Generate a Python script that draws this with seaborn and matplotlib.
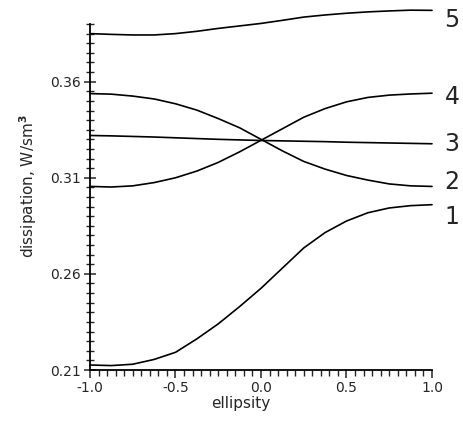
import numpy as np
import pandas as pd
import matplotlib
matplotlib.use("Agg")
import matplotlib.pyplot as plt
import seaborn as sns
from matplotlib.ticker import MultipleLocator, FixedLocator

ellipsity = [-1.0, -0.875, -0.75, -0.625, -0.5, -0.375, -0.25, -0.125, 0.0,
             0.125, 0.25, 0.375, 0.5, 0.625, 0.75, 0.875, 1.0]
curve1 = [0.2126, 0.2123, 0.2130, 0.2155, 0.2192, 0.2262, 0.2340, 0.2430, 0.2525,
          0.2630, 0.2735, 0.2815, 0.2875, 0.2918, 0.2943, 0.2955, 0.2960]
curve2 = [0.3538, 0.3535, 0.3525, 0.3510, 0.3485, 0.3452, 0.3408, 0.3360, 0.3300,
          0.3240, 0.3185, 0.3145, 0.3112, 0.3088, 0.3068, 0.3058, 0.3055]
curve3 = [0.3320, 0.3318, 0.3315, 0.3312, 0.3308, 0.3304, 0.3300, 0.3297, 0.3294,
          0.3292, 0.3290, 0.3288, 0.3285, 0.3283, 0.3281, 0.3279, 0.3277]
curve4 = [0.3055, 0.3052, 0.3058, 0.3075, 0.3100, 0.3135, 0.3180, 0.3235, 0.3295,
          0.3355, 0.3415, 0.3460, 0.3495, 0.3518, 0.3530, 0.3536, 0.3540]
curve5 = [0.3850, 0.3846, 0.3843, 0.3843, 0.3850, 0.3862, 0.3877, 0.3890, 0.3903,
          0.3919, 0.3936, 0.3947, 0.3956, 0.3963, 0.3968, 0.3972, 0.3971]
curve_names = ["1", "2", "3", "4", "5"]
y_ticks = [0.21, 0.26, 0.31, 0.36]
x_ticks = [-1.0, -0.5, 0.0, 0.5, 1.0]

series = [curve1, curve2, curve3, curve4, curve5]
df = pd.concat([pd.DataFrame({"ellipsity": ellipsity, "dissipation": s, "curve": n})
                for s, n in zip(series, curve_names)], ignore_index=True)

sns.set_style("white")
plt.rcParams["font.family"] = ["DejaVu Sans"]

fig = plt.figure(figsize=(4.64, 4.23), dpi=100)
ax = fig.add_axes([90 / 464, 53 / 423, 342 / 464, 346 / 423])

sns.lineplot(data=df, x="ellipsity", y="dissipation", hue="curve",
             palette=["black"] * 5, linewidth=1.2, legend=False, ax=ax,
             sort=True, estimator=None)
for line in ax.get_lines():
    line.set_clip_on(False)

ax.set_xlim(-1.0, 1.0)
ax.set_ylim(0.21, 0.39)

for side in ["top", "right"]:
    ax.spines[side].set_visible(False)
for side in ["left", "bottom"]:
    ax.spines[side].set_color("black")
    ax.spines[side].set_linewidth(1.3)

ax.xaxis.set_major_locator(FixedLocator(x_ticks))
ax.xaxis.set_minor_locator(MultipleLocator(0.05))
ax.yaxis.set_major_locator(FixedLocator(y_ticks))
ax.yaxis.set_minor_locator(MultipleLocator(0.005))
ax.set_xticklabels([f"{v:.1f}" for v in x_ticks])
ax.set_yticklabels([f"{v:.2f}" for v in y_ticks])

ax.tick_params(axis="y", which="major", direction="inout", length=9, width=1.1,
               labelsize=10, pad=2, left=True)
ax.tick_params(axis="y", which="minor", direction="inout", length=6, width=1.0, left=True)
ax.tick_params(axis="x", which="major", direction="out", length=6, width=1.1,
               labelsize=10, pad=2, bottom=True)
ax.tick_params(axis="x", which="minor", direction="out", length=4, width=1.0, bottom=True)

ax.set_xlabel("ellipsity", fontsize=11, labelpad=0)
ax.set_ylabel("dissipation, W/sm$^{\\mathbf{3}}$", fontsize=11, labelpad=4)
ax.yaxis.set_label_coords(-0.15, 0.53)
ax.xaxis.set_label_coords(0.44, -0.075)

label_offsets = {"1": -9, "2": 3, "3": 0, "4": -3, "5": -7}
for s, n in zip(series, curve_names):
    ax.annotate(n, xy=(ellipsity[-1], s[-1]), xytext=(9, label_offsets[n]),
                textcoords="offset points", va="center", ha="left",
                fontsize=17, annotation_clip=False)

fig.savefig("out.png", dpi=100)
